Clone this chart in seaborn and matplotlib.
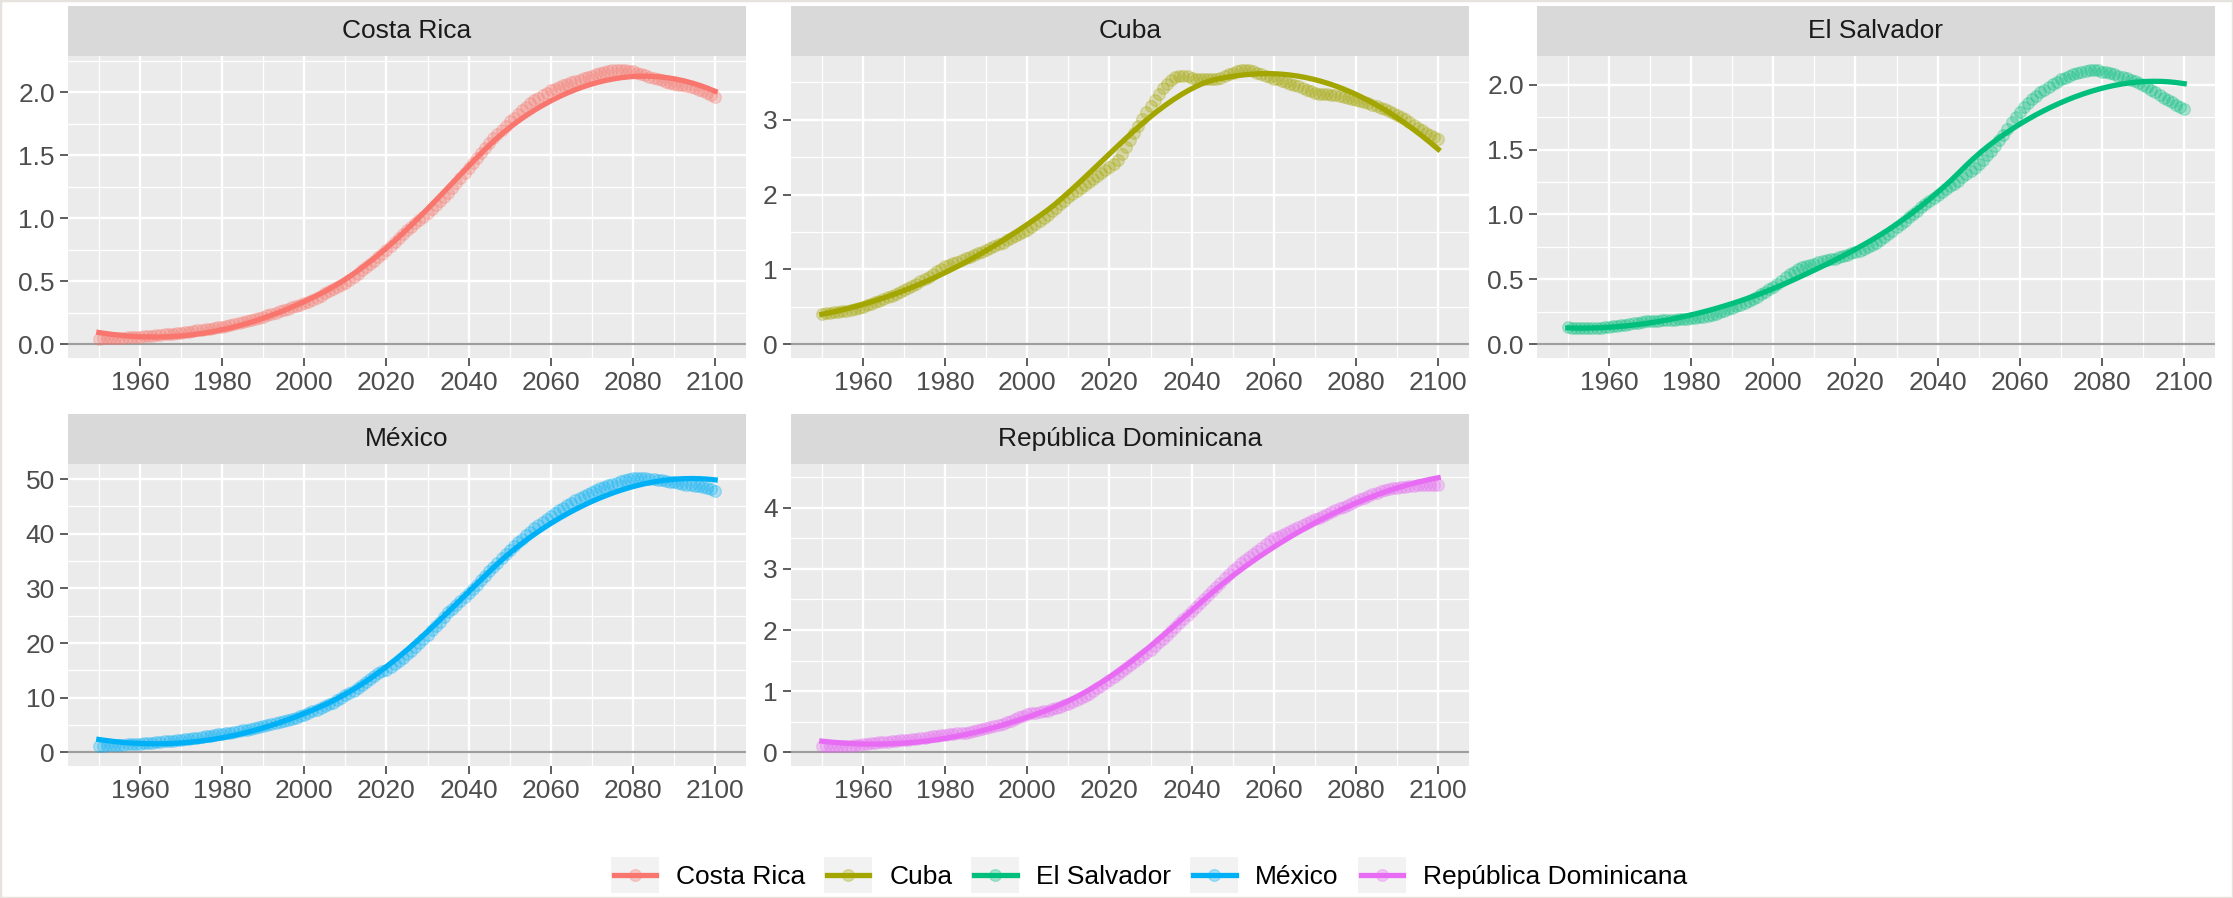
import numpy as np
import pandas as pd
import matplotlib
matplotlib.use("Agg")
import matplotlib.pyplot as plt
import seaborn as sns
from matplotlib.lines import Line2D
from matplotlib.patches import Rectangle
from matplotlib.ticker import MultipleLocator, MaxNLocator, AutoMinorLocator
from matplotlib.legend_handler import HandlerBase

# ---------------------------------------------------------
# Data (yearly values, 1950-2100)
# ---------------------------------------------------------
YEARS = np.arange(1950, 2101)

COUNTRIES = ["Costa Rica", "Cuba", "El Salvador", "México", "República Dominicana"]
COLORS = ["#F8766D", "#A3A500", "#00BF7D", "#00B0F6", "#E76BF3"]

costa_rica = [
    0.045, 0.046, 0.047, 0.048, 0.049, 0.050, 0.052, 0.054, 0.056, 0.058,
    0.060, 0.063, 0.066, 0.069, 0.072, 0.075, 0.078, 0.081, 0.084, 0.087,
    0.090, 0.095, 0.100, 0.105, 0.110, 0.115, 0.120, 0.125, 0.130, 0.135,
    0.140, 0.148, 0.156, 0.164, 0.172, 0.180, 0.188, 0.196, 0.204, 0.212,
    0.220, 0.230, 0.240, 0.250, 0.260, 0.271, 0.282, 0.293, 0.304, 0.315,
    0.325, 0.339, 0.353, 0.368, 0.386, 0.405, 0.419, 0.436, 0.453, 0.468,
    0.484, 0.508, 0.534, 0.561, 0.588, 0.616, 0.639, 0.664, 0.690, 0.717,
    0.745, 0.777, 0.809, 0.841, 0.874, 0.907, 0.932, 0.958, 0.984, 1.011,
    1.040, 1.071, 1.102, 1.134, 1.167, 1.200,
    1.239, 1.279, 1.319, 1.359, 1.400,
    1.439, 1.478, 1.517, 1.556, 1.595,
    1.632, 1.667, 1.700, 1.734, 1.767,
    1.797, 1.826, 1.855, 1.883, 1.910,
    1.934, 1.956, 1.976, 1.995, 2.013,
    2.027, 2.040, 2.053, 2.065, 2.077,
    2.088, 2.099, 2.110, 2.120, 2.130,
    2.140, 2.149, 2.158, 2.166, 2.172,
    2.176, 2.177, 2.175, 2.170, 2.164,
    2.154, 2.143, 2.132, 2.121, 2.110,
    2.101, 2.092, 2.083, 2.075, 2.066,
    2.059, 2.052, 2.045, 2.038, 2.030,
    2.020, 2.008, 1.994, 1.978, 1.960,
]

cuba = [
    0.410, 0.415, 0.420, 0.425, 0.430, 0.440, 0.450, 0.460, 0.475, 0.490,
    0.500, 0.520, 0.540, 0.560, 0.585, 0.610, 0.630, 0.650, 0.675, 0.700,
    0.720, 0.750, 0.780, 0.810, 0.840, 0.870, 0.905, 0.940, 0.975, 1.010,
    1.040, 1.060, 1.085, 1.105, 1.130, 1.150, 1.170, 1.195, 1.215, 1.240,
    1.260, 1.285, 1.310, 1.335, 1.360, 1.390, 1.415, 1.445, 1.470, 1.500,
    1.530, 1.570, 1.610, 1.650, 1.690, 1.730, 1.775, 1.820, 1.870, 1.920,
    1.970, 2.010, 2.050, 2.090, 2.130, 2.170, 2.210, 2.250, 2.290, 2.330,
    2.370, 2.410, 2.460, 2.540, 2.640, 2.730, 2.820, 2.920, 3.010, 3.100,
    3.180, 3.270, 3.350, 3.420, 3.480, 3.530, 3.570, 3.590, 3.590, 3.580,
    3.560, 3.550, 3.545, 3.540, 3.540, 3.540, 3.550, 3.565, 3.585, 3.610,
    3.630, 3.650, 3.670, 3.670, 3.660, 3.650, 3.630, 3.610, 3.590, 3.570,
    3.550, 3.540, 3.520, 3.500, 3.485, 3.470, 3.450, 3.430, 3.405, 3.380,
    3.360, 3.350, 3.345, 3.340, 3.335, 3.330, 3.320, 3.310, 3.295, 3.280,
    3.270, 3.255, 3.240, 3.220, 3.200, 3.180, 3.160, 3.140, 3.115, 3.090,
    3.070, 3.040, 3.005, 2.970, 2.930, 2.890, 2.860, 2.830, 2.800, 2.775,
    2.750,
]

el_salvador = [
    0.130, 0.129, 0.128, 0.127, 0.127, 0.127, 0.127, 0.128, 0.129, 0.130,
    0.133, 0.137, 0.142, 0.147, 0.152, 0.157, 0.162, 0.167, 0.172, 0.176,
    0.180, 0.182, 0.183, 0.184, 0.185, 0.187, 0.189, 0.192, 0.195, 0.198,
    0.200, 0.204, 0.208, 0.213, 0.219, 0.225, 0.235, 0.245, 0.256, 0.268,
    0.280, 0.293, 0.306, 0.320, 0.335, 0.350, 0.368, 0.386, 0.404, 0.422,
    0.440, 0.465, 0.490, 0.515, 0.540, 0.560, 0.580, 0.595, 0.605, 0.612,
    0.620, 0.630, 0.640, 0.650, 0.655, 0.660, 0.670, 0.680, 0.690, 0.700,
    0.710, 0.722, 0.735, 0.750, 0.765, 0.780, 0.804, 0.828, 0.852, 0.876,
    0.900, 0.926, 0.952, 0.978, 1.004, 1.030, 1.054, 1.078, 1.102, 1.126,
    1.150, 1.172, 1.194, 1.216, 1.238, 1.260, 1.285, 1.310, 1.335, 1.360,
    1.390, 1.420, 1.455, 1.490, 1.530, 1.570, 1.615, 1.660, 1.710, 1.750,
    1.790, 1.825, 1.858, 1.888, 1.915, 1.940, 1.962, 1.983, 2.003, 2.022,
    2.040, 2.055, 2.068, 2.080, 2.090, 2.100, 2.108, 2.113, 2.115, 2.112,
    2.100, 2.095, 2.088, 2.080, 2.070, 2.060, 2.050, 2.038, 2.026, 2.013,
    2.000, 1.982, 1.962, 1.943, 1.922, 1.900, 1.882, 1.864, 1.846, 1.828,
    1.810,
]

mexico = [
    1.20, 1.23, 1.26, 1.29, 1.32, 1.36, 1.40, 1.45, 1.50, 1.55,
    1.60, 1.66, 1.72, 1.78, 1.85, 1.92, 1.99, 2.07, 2.15, 2.22,
    2.30, 2.39, 2.49, 2.59, 2.70, 2.81, 2.93, 3.05, 3.17, 3.26,
    3.35, 3.47, 3.60, 3.73, 3.86, 4.00, 4.15, 4.30, 4.45, 4.60,
    4.75, 4.93, 5.11, 5.30, 5.49, 5.69, 5.90, 6.12, 6.35, 6.62,
    6.90, 7.20, 7.50, 7.80, 8.10, 8.40, 8.75, 9.10, 9.50, 9.95,
    10.40, 10.85, 11.30, 11.80, 12.30, 12.80, 13.35, 13.90, 14.45, 14.80,
    15.10, 15.60, 16.10, 16.70, 17.30, 17.90, 18.60, 19.30, 20.00, 20.75,
    21.50, 22.30, 23.10, 23.90, 24.75, 25.60, 26.30, 27.00, 27.70, 28.40,
    29.10, 29.90, 30.70, 31.50, 32.30, 33.10, 33.90, 34.70, 35.50, 36.30,
    37.10, 37.80, 38.50, 39.10, 39.80, 40.40, 41.00, 41.60, 42.20, 42.75,
    43.30, 43.80, 44.30, 44.80, 45.25, 45.70, 46.10, 46.50, 46.90, 47.30,
    47.70, 48.00, 48.30, 48.60, 48.85, 49.10, 49.35, 49.60, 49.80, 50.00,
    50.20, 50.25, 50.25, 50.20, 50.10, 50.00, 49.90, 49.80, 49.65, 49.50,
    49.40, 49.30, 49.15, 49.00, 48.90, 48.80, 48.65, 48.50, 48.30, 48.10,
    47.90,
]

rep_dominicana = [
    0.100, 0.100, 0.100, 0.100, 0.100, 0.100, 0.105, 0.110, 0.117, 0.123,
    0.130, 0.138, 0.146, 0.154, 0.162, 0.170, 0.176, 0.182, 0.188, 0.194,
    0.200, 0.208, 0.216, 0.224, 0.232, 0.240, 0.250, 0.260, 0.270, 0.280,
    0.290, 0.296, 0.302, 0.308, 0.314, 0.320, 0.333, 0.347, 0.361, 0.375,
    0.390, 0.408, 0.426, 0.446, 0.467, 0.490, 0.516, 0.543, 0.571, 0.598,
    0.625, 0.638, 0.650, 0.661, 0.671, 0.680, 0.700, 0.722, 0.745, 0.768,
    0.790, 0.822, 0.855, 0.888, 0.923, 0.960, 1.003, 1.047, 1.090, 1.134,
    1.180, 1.230, 1.280, 1.330, 1.380, 1.430, 1.480, 1.530, 1.580, 1.630,
    1.680, 1.740, 1.800, 1.860, 1.920, 1.980, 2.045, 2.110, 2.175, 2.240,
    2.310, 2.376, 2.442, 2.508, 2.574, 2.640, 2.708, 2.776, 2.844, 2.912,
    2.980, 3.035, 3.090, 3.145, 3.200, 3.250, 3.300, 3.350, 3.400, 3.450,
    3.500, 3.530, 3.560, 3.590, 3.620, 3.650, 3.682, 3.714, 3.746, 3.778,
    3.810, 3.840, 3.870, 3.900, 3.930, 3.960, 3.990, 4.020, 4.050, 4.080,
    4.110, 4.138, 4.166, 4.194, 4.222, 4.250, 4.267, 4.284, 4.300, 4.316,
    4.330, 4.338, 4.346, 4.354, 4.362, 4.370, 4.370, 4.370, 4.370, 4.370,
    4.370,
]

SERIES = [costa_rica, cuba, el_salvador, mexico, rep_dominicana]

df = pd.concat(
    [pd.DataFrame({"year": YEARS, "value": vals, "country": name})
     for name, vals in zip(COUNTRIES, SERIES)],
    ignore_index=True,
)


def loess(x, y, xs, span=0.75):
    """Local quadratic fit with tricube weights (like R's loess default)."""
    x = np.asarray(x, float)
    y = np.asarray(y, float)
    q = int(np.floor(len(x) * span))
    out = []
    for x0 in xs:
        d = np.abs(x - x0)
        h = np.sort(d)[q - 1]
        w = np.clip(1 - (d / h) ** 3, 0, None) ** 3
        X = np.vstack([np.ones_like(x), x - x0, (x - x0) ** 2]).T
        sw = np.sqrt(w)
        beta = np.linalg.lstsq(X * sw[:, None], y * sw, rcond=None)[0]
        out.append(beta[0])
    return np.array(out)


# ---------------------------------------------------------
# Layout (ggplot facet_wrap look)
# ---------------------------------------------------------
W, H = 2233, 898
plt.rcParams["font.family"] = ["Liberation Sans", "DejaVu Sans"]
FS = 19

fig = plt.figure(figsize=(W / 100, H / 100), dpi=100)
fig.patch.set_facecolor("white")

col_left = [68, 791, 1537]
panel_w = 678
strip_top = [6, 414]
strip_h = 50
panel_h = 302


def px_box(left, top, w, h):
    return [left / W, 1 - (top + h) / H, w / W, h / H]


for i, (name, color) in enumerate(zip(COUNTRIES, COLORS)):
    r, c = divmod(i, 3)
    left = col_left[c]
    st = strip_top[r]

    # strip
    sax = fig.add_axes(px_box(left, st, panel_w, strip_h))
    sax.set_facecolor("#D9D9D9")
    sax.set_xticks([])
    sax.set_yticks([])
    for s in sax.spines.values():
        s.set_visible(False)
    sax.text(0.5, 0.5, name, ha="center", va="center", fontsize=FS,
             color="#1A1A1A", transform=sax.transAxes)

    # panel
    ax = fig.add_axes(px_box(left, st + strip_h, panel_w, panel_h))
    ax.set_facecolor("#EBEBEB")
    sub = df[df["country"] == name]

    xs = np.linspace(YEARS.min(), YEARS.max(), 80)
    ys = loess(sub["year"], sub["value"], xs)

    ax.axhline(0, color="#9E9E9E", lw=1.6, zorder=1.5)
    sns.scatterplot(data=sub, x="year", y="value", color=color, alpha=0.28,
                    s=70, edgecolor=color, linewidth=1.0, ax=ax, legend=False,
                    zorder=2)
    sns.lineplot(x=xs, y=ys, color=color, lw=3.8, ax=ax, estimator=None,
                 zorder=3)

    # scale limits like ggplot (0 from hline included, 5% expansion)
    lo = min(0, sub["value"].min(), ys.min())
    hi = max(sub["value"].max(), ys.max())
    pad = (hi - lo) * 0.05
    ax.set_ylim(lo - pad, hi + pad)
    xpad = (YEARS.max() - YEARS.min()) * 0.05
    ax.set_xlim(YEARS.min() - xpad, YEARS.max() + xpad)

    ax.xaxis.set_major_locator(MultipleLocator(20))
    ax.xaxis.set_minor_locator(MultipleLocator(10))
    ax.yaxis.set_major_locator(MaxNLocator(nbins=6, steps=[1, 2, 5, 10]))
    ax.yaxis.set_minor_locator(AutoMinorLocator(2))

    ax.set_axisbelow(True)
    ax.grid(which="major", color="white", lw=1.7)
    ax.grid(which="minor", color="white", lw=0.9)
    for s in ax.spines.values():
        s.set_visible(False)
    ax.tick_params(which="major", length=5.5, width=1.1, color="#333333",
                   labelcolor="#4D4D4D", labelsize=FS, pad=4)
    ax.tick_params(which="minor", length=0)
    ax.set_xlabel("")
    ax.set_ylabel("")


# ---------------------------------------------------------
# Legend with ggplot-style grey key boxes
# ---------------------------------------------------------
class KeyHandler(HandlerBase):
    def create_artists(self, legend, orig_handle, xdescent, ydescent,
                       width, height, fontsize, trans):
        c = orig_handle.get_color()
        bg = Rectangle((-xdescent, -ydescent), width, height,
                       facecolor="#F2F2F2", edgecolor="none", transform=trans)
        yc = height / 2 - ydescent
        ln = Line2D([-xdescent + 2, -xdescent + width - 2], [yc, yc],
                    color=c, lw=3.8, transform=trans)
        pt = Line2D([width / 2 - xdescent], [yc], marker="o", ms=8.4,
                    color=c, alpha=0.3, lw=0, transform=trans)
        return [bg, ln, pt]


# key sizes in points (48 x 45 px keys, 17 px text pad, 19 px column gap)
handles = [Line2D([], [], color=c) for c in COLORS]
fig.legend(handles, COUNTRIES, handler_map={Line2D: KeyHandler()},
           loc="center", bbox_to_anchor=(1149 / W, 1 - 875 / H), ncol=5,
           frameon=False, fontsize=FS, handlelength=34.6 / FS,
           handleheight=32.4 / FS, handletextpad=12.2 / FS,
           columnspacing=13.7 / FS, borderpad=0, borderaxespad=0)

# faint border around the image
fig.patches.append(Rectangle((0, 0), 1, 1, transform=fig.transFigure,
                             fill=False, edgecolor="#E6E2DD", lw=2.5))

fig.savefig("out.png", dpi=100)
